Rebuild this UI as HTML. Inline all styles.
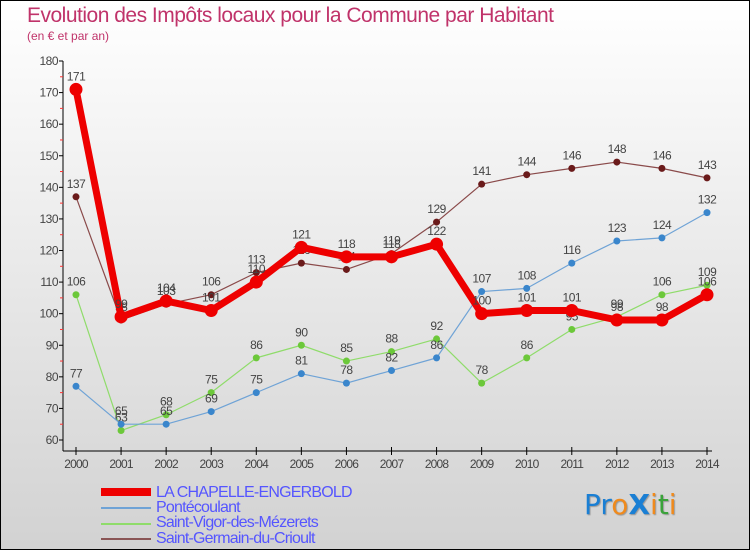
<!DOCTYPE html>
<html><head><meta charset="utf-8"><style>
html,body{margin:0;padding:0}
body{width:750px;height:550px;overflow:hidden;font-family:"Liberation Sans",sans-serif}
#wrap{position:relative;width:748px;height:548px;border:1px solid #000;background:linear-gradient(#ffffff,#d2d2d2)}
.t{position:absolute;color:#c0336a;white-space:nowrap}
.leg{position:absolute;left:155px;color:#5555ff;font-size:16px;letter-spacing:-0.8px;line-height:16px}
.sw{position:absolute;left:100px}
</style></head><body>
<div id="wrap">
<div class="t" style="left:26px;top:3px;font-size:21px;letter-spacing:-0.5px">Evolution des Impôts locaux pour la Commune par Habitant</div>
<div class="t" style="left:26px;top:28px;font-size:12px">(en € et par an)</div>
<svg id="chart" width="750" height="550" style="position:absolute;left:0;top:0"></svg>
<div class="sw" style="top:487px;width:50px;height:8px;background:#e00"></div>
<div class="sw" style="top:506px;width:50px;height:2px;background:#6fa3d6"></div>
<div class="sw" style="top:522px;width:50px;height:2px;background:#8fdc6a"></div>
<div class="sw" style="top:537px;width:50px;height:2px;background:#8a5555"></div>
<div class="leg" style="top:484px">LA CHAPELLE-ENGERBOLD</div>
<div class="leg" style="top:499px">Pontécoulant</div>
<div class="leg" style="top:514px">Saint-Vigor-des-Mézerets</div>
<div class="leg" style="top:530px">Saint-Germain-du-Crioult</div>
<div style="position:absolute;left:583px;top:487px;font-size:28px;font-family:'DejaVu Sans',sans-serif;text-shadow:1px 1px 1px #999"><span style="color:#1a7fd4">Pr</span><span style="color:#f08a1c">o</span><span style="color:#1a7fd4;font-weight:bold">X</span><span style="color:#f08a1c">i</span><span style="color:#3aa33a">t</span><span style="color:#f08a1c">i</span></div>
</div>
<script>
const years=[2000,2001,2002,2003,2004,2005,2006,2007,2008,2009,2010,2011,2012,2013,2014];
const yTicks=[60,70,80,90,100,110,120,130,140,150,160,170,180];
const chapelle=[171,99,104,101,110,121,118,118,122,100,101,101,98,98,106];
const pontecoulant=[77,65,65,69,75,81,78,82,86,107,108,116,123,124,132];
const saintVigor=[106,63,68,75,86,90,85,88,92,78,86,95,99,106,109];
const saintGermain=[137,98,103,106,113,116,114,119,129,141,144,146,148,146,143];
const NS='http://www.w3.org/2000/svg';
const svg=document.getElementById('chart');
const xs=i=>75+i*(706-75)/14;
const ys=v=>439-(v-60)*(439-60)/120;
function mk(tag,attrs,parent){const e=document.createElementNS(NS,tag);for(const k in attrs)e.setAttribute(k,attrs[k]);(parent||svg).appendChild(e);return e;}
// axes
const ax=mk('g',{});


mk('line',{x1:62,y1:60,x2:62,y2:450,stroke:'#000','stroke-width':1},ax);
mk('line',{x1:62,y1:450,x2:711,y2:450,stroke:'#000','stroke-width':1},ax);
yTicks.forEach((v,i)=>{
  mk('line',{x1:58,y1:ys(v),x2:62,y2:ys(v),stroke:'#000'},ax);
  if(i<yTicks.length-1)mk('line',{x1:59,y1:ys(v+5),x2:62,y2:ys(v+5),stroke:'#f33'},ax);
  const t=mk('text',{x:57,y:ys(v)+4,'text-anchor':'end','font-size':12,fill:'#444','letter-spacing':'-0.5'},ax);
  t.textContent=v;
  
  
});
years.forEach((y,i)=>{
  mk('line',{x1:xs(i),y1:446,x2:xs(i),y2:454,stroke:'#000'},ax);
  const t=mk('text',{x:xs(i),y:467,'text-anchor':'middle','font-size':12,fill:'#444','letter-spacing':'-0.8'},ax);
  t.textContent=y;
  
  
});
function series(data,name,line,dot,lw,r){
  const g=mk('g',{});
  
  
  mk('polyline',{points:data.map((v,i)=>xs(i)+','+ys(v)).join(' '),fill:'none',stroke:line,'stroke-width':lw,'stroke-linejoin':'round'},g);
  data.forEach((v,i)=>{
    const c=mk('circle',{cx:xs(i),cy:ys(v),r:r,fill:dot},g);
    
    
    const t=mk('text',{x:xs(i),y:ys(v)-9,'text-anchor':'middle','font-size':12,fill:'#444','letter-spacing':'-0.5'},g);
    t.textContent=v;
    
    
  });
}
series(saintGermain,'saint-germain','#8a4a4a','#6a1a1a',1.2,3.5);
series(saintVigor,'saint-vigor','#8fdc6a','#6cc83a',1.2,3.5);
series(pontecoulant,'pontecoulant','#6fa3d6','#3a86cc',1.2,3.5);
series(chapelle,'chapelle','#ee0000','#ee0000',7,6.5);
</script>
</body></html>
